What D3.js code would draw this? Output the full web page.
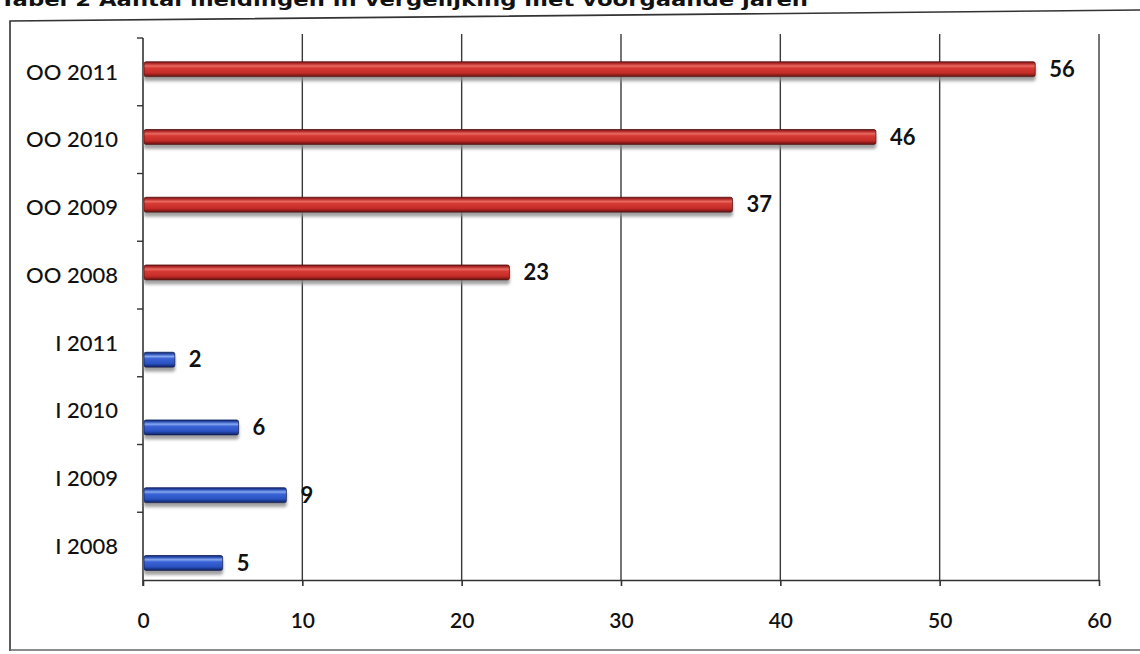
<!DOCTYPE html>
<html>
<head>
<meta charset="utf-8">
<script src="https://cdn.jsdelivr.net/npm/d3@7/dist/d3.min.js"></script>
<style>
  html, body { margin: 0; padding: 0; background: #ffffff; }
  svg { display: block; }
</style>
</head>
<body>
<svg id="chart" width="1140" height="654"></svg>
<script>
// Meldingen per jaar: OO (rood) en I (blauw)
const categories = ["OO 2011", "OO 2010", "OO 2009", "OO 2008", "I 2011", "I 2010", "I 2009", "I 2008"];
const seriesNames = ["OO", "I"];
const ooValues = [56, 46, 37, 23, null, null, null, null];
const iValues = [null, null, null, null, 2, 6, 9, 5];
const xTicks = [0, 10, 20, 30, 40, 50, 60];
const titleText = "Tabel 2 Aantal meldingen in vergelijking met voorgaande jaren";

const svg = d3.select("#chart");
const labelFont = "Lato, 'Open Sans', sans-serif";

// scales
const x = d3.scaleLinear().domain([0, 60]).range([143, 1099]);
const y = d3.scaleBand().domain(categories).range([38, 580]).padding(0);
const ySeries = d3.scaleBand().domain(seriesNames).range([22, 60]).paddingInner(0.05);
const barH = 15;

// gradients and shadow
const defs = svg.append("defs");
function cylGradient(id, stops) {
  const g = defs.append("linearGradient").attr("id", id)
    .attr("x1", 0).attr("y1", 0).attr("x2", 0).attr("y2", 1);
  stops.forEach(([o, c]) => g.append("stop").attr("offset", o).attr("stop-color", c));
}
cylGradient("redBar", [
  [0, "#6e1414"], [0.12, "#b52a2a"], [0.28, "#e86a60"], [0.42, "#d63a33"],
  [0.75, "#c42c28"], [1, "#5e1010"]
]);
cylGradient("blueBar", [
  [0, "#14286e"], [0.12, "#2a4fb5"], [0.28, "#86a8ee"], [0.42, "#3b64d6"],
  [0.75, "#2a52c2"], [1, "#10215e"]
]);
const shadow = defs.append("filter").attr("id", "barShadow")
  .attr("x", "-5%").attr("y", "-50%").attr("width", "110%").attr("height", "220%");
shadow.append("feDropShadow").attr("dx", 0).attr("dy", 4)
  .attr("stdDeviation", 1.4).attr("flood-color", "#8a8a8a").attr("flood-opacity", 0.8);

// title along the top edge of the page
svg.append("text")
  .attr("x", 0).attr("y", 6)
  .attr("font-family", "'DejaVu Sans', Verdana, sans-serif")
  .attr("font-weight", "bold")
  .attr("font-size", 18)
  .attr("textLength", 808).attr("lengthAdjust", "spacingAndGlyphs")
  .attr("fill", "#111")
  .text(titleText);

// outer frame
svg.append("path")
  .attr("d", "M10,651 L10,21 L1140,10")
  .attr("fill", "none").attr("stroke", "#333").attr("stroke-width", 1.6);
svg.append("line")
  .attr("x1", 10).attr("x2", 1140).attr("y1", 650).attr("y2", 650)
  .attr("stroke", "#666").attr("stroke-width", 1.4);

// vertical gridlines
svg.append("g").selectAll("line")
  .data(xTicks.filter(d => d > 0))
  .join("line")
  .attr("x1", d => x(d)).attr("x2", d => x(d))
  .attr("y1", 34).attr("y2", 580)
  .attr("stroke", "#3a3a3a").attr("stroke-width", 1.4);

// x axis
const xAxis = svg.append("g")
  .attr("transform", "translate(0,580)")
  .call(d3.axisBottom(x).tickValues(xTicks).tickSize(6).tickPadding(27).tickSizeOuter(0));
xAxis.select(".domain").attr("stroke", "#333").attr("stroke-width", 1.6);
xAxis.selectAll(".tick line").attr("stroke", "#333").attr("stroke-width", 1.6);
xAxis.selectAll(".tick text")
  .attr("font-family", labelFont).attr("font-size", 21).attr("font-weight", 600)
  .attr("fill", "#111");

// y axis: ticks on category boundaries
const yAxisG = svg.append("g").attr("transform", "translate(143,0)");
yAxisG.append("line")
  .attr("x1", 0).attr("x2", 0).attr("y1", 38).attr("y2", 586)
  .attr("stroke", "#333").attr("stroke-width", 1.6);
yAxisG.selectAll("line.tick")
  .data(categories)
  .join("line").attr("class", "tick")
  .attr("x1", -6).attr("x2", 0)
  .attr("y1", d => y(d)).attr("y2", d => y(d))
  .attr("stroke", "#333").attr("stroke-width", 1.4);
yAxisG.selectAll("text")
  .data(categories)
  .join("text")
  .attr("x", -25)
  .attr("y", d => y(d) + y.bandwidth() / 2)
  .attr("dy", "0.35em")
  .attr("text-anchor", "end")
  .attr("font-family", labelFont).attr("font-size", 22).attr("font-weight", 500)
  .attr("fill", "#111")
  .text(d => d);

// bars
const rows = [];
categories.forEach((c, i) => {
  if (ooValues[i] != null) rows.push({ cat: c, series: "OO", value: ooValues[i] });
  if (iValues[i] != null) rows.push({ cat: c, series: "I", value: iValues[i] });
});
const barY = d => y(d.cat) + ySeries(d.series) + ySeries.bandwidth() / 2 - barH / 2;

const bars = svg.append("g");
bars.selectAll("rect")
  .data(rows)
  .join("rect")
  .attr("x", x(0) + 1)
  .attr("y", barY)
  .attr("width", d => x(d.value) - x(0) - 1)
  .attr("height", barH)
  .attr("rx", 2)
  .attr("fill", d => d.series === "OO" ? "url(#redBar)" : "url(#blueBar)")
  .attr("stroke", d => d.series === "OO" ? "#5a1010" : "#10215a")
  .attr("stroke-width", 0.8)
  .attr("filter", "url(#barShadow)");

// value labels
svg.append("g").selectAll("text")
  .data(rows)
  .join("text")
  .attr("x", d => x(d.value) + 14)
  .attr("y", d => barY(d) + barH / 2)
  .attr("dy", "0.35em")
  .attr("font-family", labelFont).attr("font-size", 22).attr("font-weight", "bold")
  .attr("fill", "#111")
  .text(d => d.value);
</script>
</body>
</html>
